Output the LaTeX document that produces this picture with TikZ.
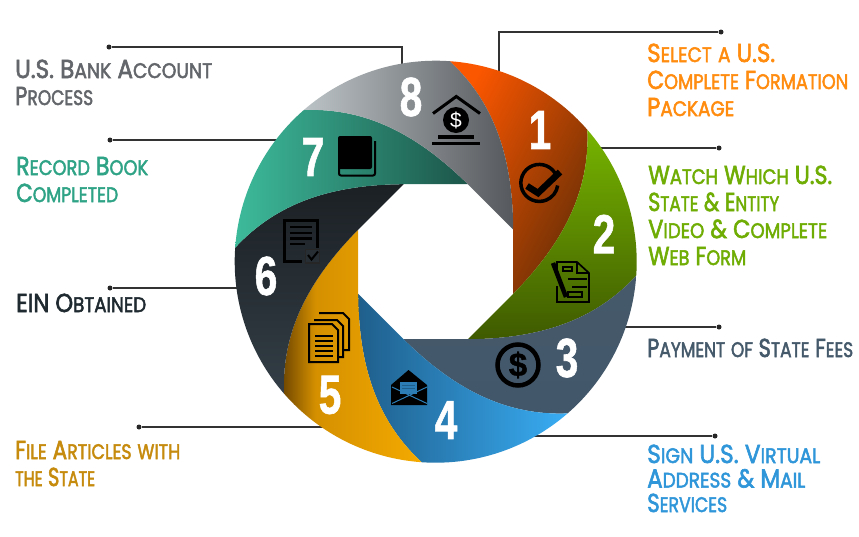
\documentclass[tikz,border=0pt]{standalone}
\usepackage{graphicx}
\usepackage{fontspec}
\newfontfamily\labelfont[FakeBold=2.4]{Poppins}
\newfontfamily\numfont[BoldFeatures={FakeBold=1.2}]{Liberation Sans}
\definecolor{F5}{HTML}{FB5600}\definecolor{B1}{HTML}{6A2F05}
\definecolor{G5}{HTML}{76B400}\definecolor{G1}{HTML}{3F5A00}
\definecolor{S5}{HTML}{45596A}\definecolor{S1}{HTML}{42576A}
\definecolor{L1}{HTML}{1F5F8C}\definecolor{L3}{HTML}{2C7DB5}\definecolor{L5}{HTML}{39ADF4}
\definecolor{A1}{HTML}{6E4500}\definecolor{A3}{HTML}{D59000}\definecolor{A5}{HTML}{F4AA00}
\definecolor{D1}{HTML}{1B2024}\definecolor{D3}{HTML}{272E34}\definecolor{D5}{HTML}{333E46}
\definecolor{T5}{HTML}{3DBB9B}\definecolor{T1}{HTML}{1C5549}
\definecolor{H5}{HTML}{BCC3C6}\definecolor{H1}{HTML}{55585C}
\definecolor{Lorange}{HTML}{FF8C0F}\definecolor{Lgreen}{HTML}{6FAD04}
\definecolor{Lslate}{HTML}{44596A}\definecolor{Lblue}{HTML}{2F96D9}
\definecolor{Lgold}{HTML}{C68A0C}\definecolor{Ldark}{HTML}{1F2A30}
\definecolor{Lteal}{HTML}{2FA385}\definecolor{Lgrey}{HTML}{63666A}
\pgfdeclarehorizontalshading{amberfade}{100bp}{color(0bp)=(A1); color(25bp)=(A1); color(37bp)=(A3); color(75bp)=(A5); color(100bp)=(A5)}
\makeatletter
\newcommand\bigF{\fontsize{26}{27}\selectfont}
\newcommand\smF{\fontsize{21}{27}\selectfont}
\def\SCt#1{\ifx#1\&{\bigF\&}\else\ifnum\uccode`#1=`#1 {\bigF #1}\else\ifnum\uccode`#1=0 {\bigF #1}\else{\smF\uppercase{#1}}\fi\fi\fi}
\def\SCw#1 #2\@nil{\@tfor\sc@x:=#1\do{\expandafter\SCt\sc@x}\if\relax\detokenize{#2}\relax\else\hspace{7pt}\SCw#2\@nil\fi}
\newcommand\SC[1]{\SCw#1 \@nil}
\makeatother
\newsavebox\flbox
\newcommand\FL[2]{\sbox\flbox{\SC{#2}}\pgfmathsetmacro\flr{#1/\the\wd\flbox}\scalebox{\flr}[1]{\usebox\flbox}}
\newcommand\petal[2]{%
  \pgfmathsetmacro\vN{22.5+45*#1}\pgfmathsetmacro\vP{\vN-45}%
  \shade[#2] ({\vP-63.5}:201) arc[start angle={\vP-63.5},end angle={\vN-63.5},radius=201]
    .. controls ({\vN-46.9}:169.2) and ({\vN-30.8}:128.8) .. (\vN:83.9)
    -- (\vP:83.9)
    .. controls ({\vP-30.8}:128.8) and ({\vP-46.9}:169.2) .. ({\vP-63.5}:201) -- cycle;}
\tikzset{
  dotnode/.style={circle,fill=black!85,inner sep=0pt,minimum size=5pt},
  conn/.style={draw=black!80,line width=1.5pt},
  lbl/.style={anchor=base west,inner sep=0pt,align=left,font=\labelfont\fontsize{21}{27}\selectfont},
  num/.style={text=white,inner sep=0pt,font=\numfont\bfseries\fontsize{55}{55}\selectfont},
  ico/.style={draw=black,line width=2pt,line join=miter},
}
\begin{document}
\begin{tikzpicture}[x=1pt,y=-1pt]
\useasboundingbox (0,0) rectangle (859,536);
\fill[white] (0,0) rectangle (859,536);
% connectors
\node[dotnode] (d1) at (721,32) {};
\node[dotnode] (d2) at (719,148) {};
\node[dotnode] (d3) at (719,327) {};
\node[dotnode] (d4) at (715,436) {};
\node[dotnode] (d5) at (139,427) {};
\node[dotnode] (d6) at (110,288) {};
\node[dotnode] (d7) at (110,140) {};
\node[dotnode] (d8) at (109,47) {};
\coordinate (j1) at (499,32);
\coordinate (a1) at (499,80);
\coordinate (a2) at (585,148);
\coordinate (a3) at (620,327);
\coordinate (a4) at (530,436);
\coordinate (a5) at (340,427);
\coordinate (a6) at (245,288);
\coordinate (a7) at (290,140);
\coordinate (j8) at (402,47);
\coordinate (a8) at (402,75);
\draw[conn] (d1) -- (j1) -- (a1);
\draw[conn] (d2) -- (a2);
\draw[conn] (d3) -- (a3);
\draw[conn] (d4) -- (a4);
\draw[conn] (d5) -- (a5);
\draw[conn] (d6) -- (a6);
\draw[conn] (d7) -- (a7);
\draw[conn] (d8) -- (j8) -- (a8);
% ring
\begin{scope}[shift={(435.7,261.7)}]
\petal{0}{top color=F5,bottom color=B1,shading angle=62}
\petal{1}{top color=G5,bottom color=G1}
\petal{2}{top color=S5,bottom color=S1}
\petal{3}{left color=L1,right color=L5}
\petal{4}{shading=amberfade}
\petal{5}{top color=D1,bottom color=D5}
\petal{6}{left color=T5,right color=T1}
\petal{7}{left color=H5,right color=H1}
\end{scope}
% numbers
\node[num] (n1) at (540,130) {\scalebox{.74}[1]{1}};
\node[num] (n2) at (604,234) {\scalebox{.74}[1]{2}};
\node[num] (n3) at (567,358) {\scalebox{.74}[1]{3}};
\node[num] (n4) at (446,420) {\scalebox{.74}[1]{4}};
\node[num] (n5) at (330,395) {\scalebox{.74}[1]{5}};
\node[num] (n6) at (266,276) {\scalebox{.74}[1]{6}};
\node[num] (n7) at (313,157) {\scalebox{.74}[1]{7}};
\node[num] (n8) at (411,97) {\scalebox{.74}[1]{8}};
% icon 1: check
\draw[line width=3.5pt] (556.5,176) arc[start angle=-22,end angle=-372+20,radius=18.5];
\draw[line width=6.5pt] (527,186) -- (538,193) -- (560,172);
% icon 2: form and pen
\draw[ico,line width=1.7pt] (557,269) -- (557,262) -- (577,262) -- (589,273) -- (589,302) -- (557,302) -- (557,286);
\draw[ico,line width=1.7pt] (577,262) -- (577,273) -- (589,273);
\draw[ico,line width=1.5pt] (568,279) -- (587,279) (572,287) -- (587,287);
\draw[ico,line width=1.5pt] (568,292) rectangle (582,297);
\draw[ico,line width=1.5pt] (563,267) rectangle (572,271);
\draw[line width=4.5pt] (553,263) -- (566,297);
% icon 3: dollar coin
\draw[line width=4.5pt] (518,365) circle[radius=20.5];
\node[inner sep=0pt,font=\numfont\bfseries\fontsize{33}{33}\selectfont] (cash) at (518,365) {\$};
% icon 4: envelope
\fill[black] (408.5,370) -- (427,385) -- (427,405) -- (391,405) -- (391,385) -- cycle;
\fill[L3] (400,382) rectangle (417,394);
\draw[L1,line width=.7pt] (402,385.5) -- (415,385.5) (402,388.5) -- (415,388.5);
\draw[L3,line width=1pt] (392,403.5) -- (427,387) (392,387) -- (427,403.5);
% icon 5: stacked pages
\draw[ico] (309,324) -- (332,324) -- (338,330) -- (338,362) -- (309,362) -- cycle;
\draw[ico] (314,320) -- (337,320) -- (343,326) -- (343,357) -- (339,357);
\draw[ico] (319,313) -- (343,313) -- (349,319) -- (349,350) -- (344,350);
\draw[line width=1.7pt] (315,336) -- (333,336) (315,341) -- (333,341) (315,346) -- (333,346) (315,351) -- (333,351) (315,356) -- (333,356);
% icon 6: document with check
\draw[ico,line width=3pt] (302,261) -- (284.5,261) -- (284.5,220.5) -- (317,220.5) -- (317,248);
\draw[line width=2.4pt] (290,227) -- (312,227) (290,233) -- (312,233) (290,238.5) -- (312,238.5) (290,244) -- (305,244);
\draw[draw=black!85,fill=D3,line width=1.5pt] (305.5,249.5) rectangle (319.5,263);
\draw[black,line width=2pt] (308,255) -- (311.5,259.5) -- (318,251.5);
% icon 7: book
\fill[black,rounded corners=2pt] (338,136) rectangle (372,169);
\draw[line width=2pt,rounded corners=2pt] (339,165) -- (339,175.5) -- (375,175.5) -- (375,141);
% icon 8: bank
\draw[line width=3pt] (433,113.5) -- (456.3,96.5) -- (480,113.5);
\fill[black] (456,120) circle[radius=13];
\node[inner sep=0pt,text=white,font=\numfont\fontsize{21}{21}\selectfont] (bank) at (456,120) {\$};
\draw[line width=3.3pt] (438,137) -- (474,137) (432,143.5) -- (480,143.5);
% labels (base anchor = last line's baseline)
\node[lbl,text=Lorange] (l1) at (647,116) {\FL{128}{Select a U.S.}\\\FL{201}{Complete Formation}\\\FL{87}{Package}};
\node[lbl,text=Lgreen] (l2) at (648,265) {\FL{184}{Watch Which U.S.}\\\FL{131}{State \& Entity}\\\FL{179}{Video \& Complete}\\\FL{98}{Web Form}};
\node[lbl,text=Lslate] (l3) at (647,357) {\FL{206}{Payment of State Fees}};
\node[lbl,text=Lblue] (l4) at (647,512) {\FL{173}{Sign U.S. Virtual}\\[-2.5pt]\FL{158}{Address \& Mail}\\[-2.5pt]\FL{80}{Services}};
\node[lbl,text=Lgold] (l5) at (15,486) {\FL{165}{File Articles with}\\\FL{80}{the State}};
\node[lbl,text=Ldark] (l6) at (16,312) {\FL{130}{EIN Obtained}};
\node[lbl,text=Lteal] (l7) at (16,202) {\FL{132}{Record Book}\\\FL{102}{Completed}};
\node[lbl,text=Lgrey] (l8) at (15,105) {\FL{197}{U.S. Bank Account}\\\FL{78}{Process}};
\end{tikzpicture}
\end{document}
